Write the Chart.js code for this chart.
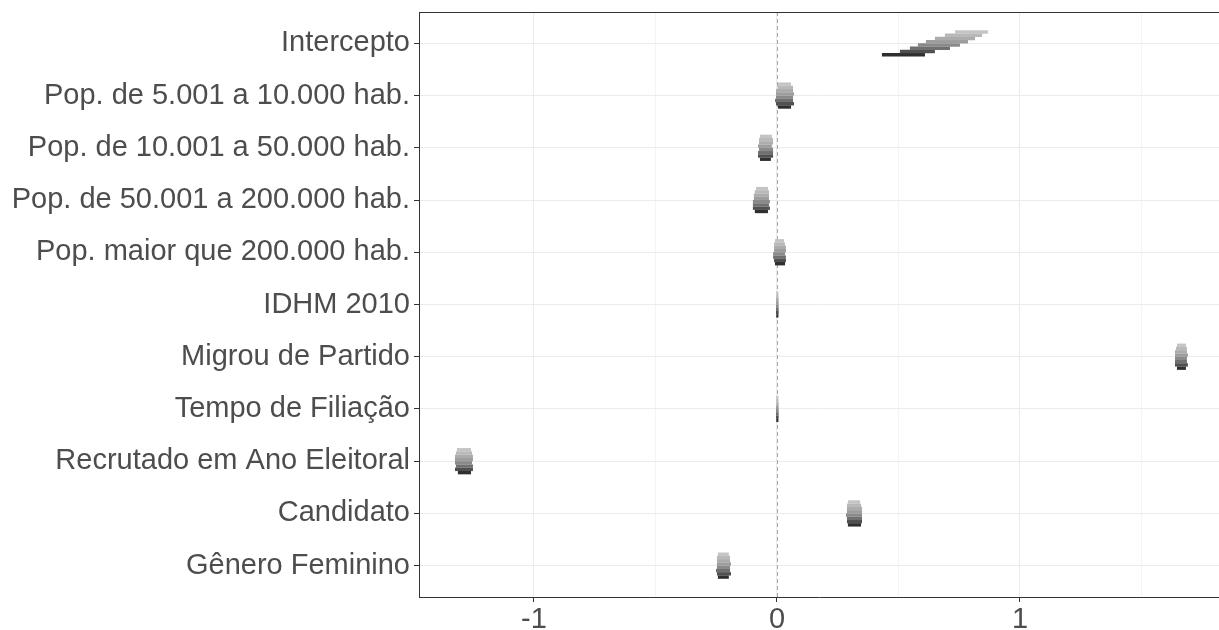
<!DOCTYPE html>
<html>
<head>
<meta charset="utf-8">
<script src="https://cdn.jsdelivr.net/npm/chart.js"></script>
<style>
html,body{margin:0;padding:0;background:#fff;overflow:hidden}
</style>
</head>
<body>
<canvas id="myChart" width="1219" height="630"></canvas>
<script>
const categorias = ['Intercepto', 'Pop. de 5.001 a 10.000 hab.', 'Pop. de 10.001 a 50.000 hab.',
  'Pop. de 50.001 a 200.000 hab.', 'Pop. maior que 200.000 hab.', 'IDHM 2010', 'Migrou de Partido',
  'Tempo de Filiação', 'Recrutado em Ano Eleitoral', 'Candidato', 'Gênero Feminino'];

// intervalos [min, max] de cada camada, da mais clara (topo) a mais escura (base)
const intercepto = [[0.733,0.868],[0.691,0.844],[0.650,0.815],[0.613,0.786],[0.580,0.753],[0.547,0.712],[0.506,0.650],[0.432,0.609]];
const pop5a10 = [[0.004,0.058],[0.000,0.066],[-0.004,0.066],[-0.004,0.070],[-0.004,0.066],[-0.008,0.066],[-0.004,0.070],[0.004,0.058]];
const pop10a50 = [[-0.070,-0.021],[-0.074,-0.016],[-0.074,-0.016],[-0.078,-0.021],[-0.074,-0.016],[-0.078,-0.016],[-0.078,-0.016],[-0.070,-0.025]];
const pop50a200 = [[-0.086,-0.037],[-0.091,-0.033],[-0.095,-0.033],[-0.095,-0.033],[-0.099,-0.029],[-0.099,-0.033],[-0.099,-0.029],[-0.091,-0.037]];
const popMaior200 = [[-0.008,0.029],[-0.012,0.033],[-0.012,0.037],[-0.012,0.037],[-0.016,0.033],[-0.016,0.037],[-0.012,0.037],[-0.008,0.033]];
const idhm = [[-0.003,0.006],[-0.003,0.006],[-0.004,0.007],[-0.004,0.007],[-0.004,0.007],[-0.004,0.007],[-0.004,0.007],[-0.003,0.006]];
const migrou = [[1.646,1.683],[1.642,1.687],[1.638,1.687],[1.638,1.691],[1.638,1.687],[1.638,1.687],[1.638,1.691],[1.646,1.683]];
const tempoFiliacao = [[-0.003,0.006],[-0.003,0.006],[-0.003,0.007],[-0.004,0.007],[-0.004,0.007],[-0.004,0.007],[-0.004,0.007],[-0.003,0.006]];
const recrutado = [[-1.317,-1.259],[-1.321,-1.255],[-1.325,-1.251],[-1.325,-1.251],[-1.325,-1.255],[-1.321,-1.251],[-1.325,-1.251],[-1.313,-1.259]];
const candidato = [[0.292,0.342],[0.288,0.346],[0.288,0.350],[0.288,0.350],[0.284,0.350],[0.288,0.350],[0.288,0.350],[0.292,0.346]];
const generoFem = [[-0.243,-0.198],[-0.247,-0.193],[-0.247,-0.193],[-0.247,-0.189],[-0.247,-0.193],[-0.251,-0.193],[-0.247,-0.189],[-0.243,-0.198]];

const xTicks = [-1, -0.5, 0, 0.5, 1, 1.5];

const series = [intercepto, pop5a10, pop10a50, pop50a200, popMaior200, idhm, migrou, tempoFiliacao, recrutado, candidato, generoFem];
const cores = ['#c4c4c4', '#b9b9b9', '#acacac', '#9d9d9d', '#8a8a8a', '#707070', '#505050', '#2f2f2f'];

const fonte = {family: "'Liberation Sans', Arial, sans-serif", size: 29};

const datasets = cores.map((cor, k) => ({
  data: series.map((s, i) => ({y: i, x: s[k]})),
  backgroundColor: cor,
  borderWidth: 0,
  categoryPercentage: 0.5,
  barPercentage: 1.05
}));

const moldura = {
  id: 'moldura',
  beforeDatasetsDraw(chart) {
    const {ctx, chartArea: a, scales: {x}} = chart;
    const x0 = Math.round(x.getPixelForValue(0)) + 0.5;
    ctx.save();
    ctx.strokeStyle = '#a6a6a6';
    ctx.lineWidth = 1;
    ctx.setLineDash([4, 3]);
    ctx.beginPath();
    ctx.moveTo(x0, a.top);
    ctx.lineTo(x0, a.bottom);
    ctx.stroke();
    ctx.restore();
  },
  afterDraw(chart) {
    const {ctx, chartArea: a} = chart;
    ctx.save();
    ctx.strokeStyle = '#333333';
    ctx.lineWidth = 1;
    ctx.beginPath();
    ctx.moveTo(a.left, a.top + 0.5);
    ctx.lineTo(a.right, a.top + 0.5);
    ctx.stroke();
    ctx.restore();
  }
};

const ctx = document.getElementById('myChart');

new Chart(ctx, {
  type: 'bar',
  data: {datasets: datasets},
  plugins: [moldura],
  options: {
    responsive: false,
    animation: false,
    indexAxis: 'y',
    layout: {padding: {top: 12, right: 0, bottom: 0, left: 0}},
    plugins: {legend: {display: false}, tooltip: {enabled: false}},
    scales: {
      x: {
        type: 'linear',
        min: -1.473,
        max: 1.819,
        afterBuildTicks: s => { s.ticks = xTicks.map(v => ({value: v})); },
        afterFit: s => { s.height = 33; s.paddingLeft = 0; s.paddingRight = 0; },
        ticks: {
          callback: v => Number.isInteger(v) ? String(v) : '',
          color: '#4d4d4d',
          font: fonte,
          padding: 1,
          maxRotation: 0,
          autoSkip: false
        },
        grid: {
          color: c => Number.isInteger(c.tick.value) ? '#ebebeb' : '#f4f4f4',
          tickColor: c => Number.isInteger(c.tick.value) ? '#333333' : 'rgba(0,0,0,0)',
          tickLength: 5
        },
        border: {color: '#333333', width: 1}
      },
      y: {
        type: 'linear',
        reverse: true,
        offset: false,
        min: -0.6,
        max: 10.6,
        afterBuildTicks: s => { s.ticks = categorias.map((c, i) => ({value: i})); },
        afterFit: s => { s.width = 419; s.paddingTop = 0; s.paddingBottom = 0; },
        ticks: {
          callback: v => categorias[v],
          color: '#4d4d4d',
          font: fonte,
          padding: 4,
          autoSkip: false
        },
        grid: {color: '#ebebeb', tickColor: '#333333', tickLength: 5, offset: false},
        border: {color: '#333333', width: 1}
      }
    }
  }
});
</script>
</body>
</html>
